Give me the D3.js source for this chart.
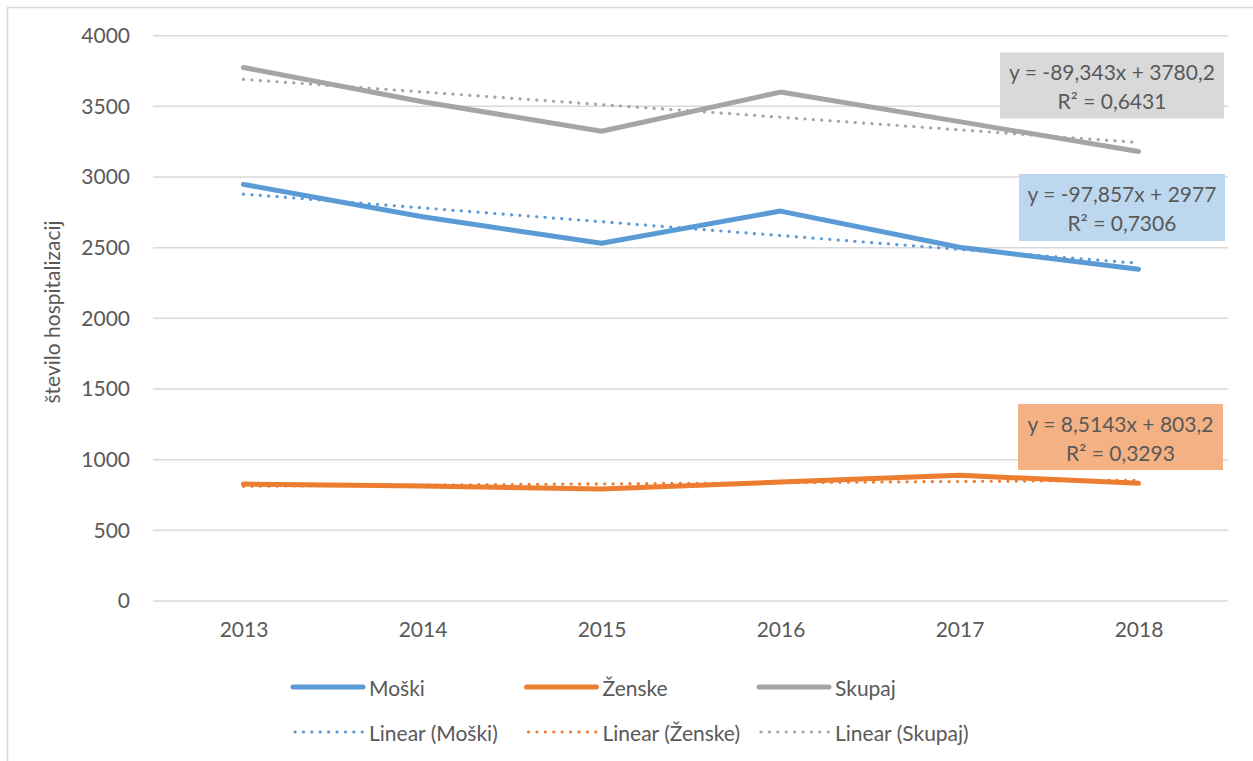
<!DOCTYPE html>
<html>
<head>
<meta charset="utf-8">
<script src="https://cdn.jsdelivr.net/npm/d3@7"></script>
<style>
  html, body { margin: 0; padding: 0; background: #fff; }
  svg { display: block; }
  text { font-family: Lato, "Open Sans", sans-serif; fill: #595959; }
</style>
</head>
<body>
<svg id="chart" width="1253" height="761"></svg>
<script>
// Hospitalizations per year, by sex
const years = ["2013", "2014", "2015", "2016", "2017", "2018"];
const moski = [2948, 2719, 2531, 2759, 2503, 2347];
const zenske = [827, 814, 793, 842, 889, 833];
const skupaj = [3775, 3533, 3324, 3601, 3392, 3180];

// Linear trend coefficients (y = slope * x + intercept, x = 1..6)
const trendSlope = [-97.857, 8.5143, -89.343];
const trendIntercept = [2977, 803.2, 3780.2];
const trendR2 = ["0,7306", "0,3293", "0,6431"];
const trendLabels = ["y = -97,857x + 2977", "y = 8,5143x + 803,2", "y = -89,343x + 3780,2"];

const seriesNames = ["Moški", "Ženske", "Skupaj"];
const seriesValues = [moski, zenske, skupaj];
const seriesColors = ["#5b9bd5", "#ed7d31", "#a5a5a5"];
const boxColors = ["#bdd7ee", "#f4b183", "#d9d9d9"];

const yTicks = [0, 500, 1000, 1500, 2000, 2500, 3000, 3500, 4000];

const FONT = "21px";
const svg = d3.select("#chart");

// outer chart frame
svg.append("rect")
  .attr("x", 7.5).attr("y", 7.5)
  .attr("width", 1400).attr("height", 900)
  .attr("fill", "none").attr("stroke", "#d9d9d9").attr("stroke-width", 1.5);

const x = d3.scalePoint().domain(years).range([154, 1228]).padding(0.5);
const y = d3.scaleLinear().domain([0, 4000]).range([601, 35.7]);

// gridlines
svg.append("g")
  .selectAll("line")
  .data(yTicks)
  .join("line")
  .attr("x1", 153).attr("x2", 1228)
  .attr("y1", d => y(d)).attr("y2", d => y(d))
  .attr("stroke", "#d9d9d9").attr("stroke-width", 1.5);

// y axis labels
const yAxis = svg.append("g")
  .attr("transform", "translate(154,0)")
  .call(d3.axisLeft(y).tickValues(yTicks).tickSize(0).tickPadding(24).tickFormat(d3.format("d")));
yAxis.select(".domain").remove();
yAxis.selectAll("text")
  .style("font-size", FONT).style("font-family", "Lato, sans-serif").attr("fill", "#595959");

// x axis labels
const xAxis = svg.append("g")
  .attr("transform", "translate(0,601)")
  .call(d3.axisBottom(x).tickSize(0).tickPadding(21));
xAxis.select(".domain").remove();
xAxis.selectAll("text")
  .style("font-size", FONT).style("font-family", "Lato, sans-serif").attr("fill", "#595959");

// y axis title
svg.append("text")
  .attr("transform", "translate(51,312) rotate(-90)")
  .attr("text-anchor", "middle")
  .attr("dominant-baseline", "central")
  .style("font-size", FONT)
  .text("število hospitalizacij");

// series lines
const line = d3.line()
  .x((d, i) => x(years[i]))
  .y(d => y(d));

svg.append("g")
  .selectAll("path")
  .data(seriesValues)
  .join("path")
  .attr("d", d => line(d))
  .attr("fill", "none")
  .attr("stroke", (d, i) => seriesColors[i])
  .attr("stroke-width", 5)
  .attr("stroke-linejoin", "round")
  .attr("stroke-linecap", "round");

// linear trend lines
const trendDash = "0.1,8.3";
svg.append("g")
  .selectAll("line")
  .data(seriesNames)
  .join("line")
  .attr("x1", x(years[0]))
  .attr("x2", x(years[years.length - 1]))
  .attr("y1", (d, i) => y(trendSlope[i] * 1 + trendIntercept[i]))
  .attr("y2", (d, i) => y(trendSlope[i] * years.length + trendIntercept[i]))
  .attr("stroke", (d, i) => seriesColors[i])
  .attr("stroke-width", 3.2)
  .attr("stroke-linecap", "round")
  .attr("stroke-dasharray", trendDash);

// trend equation boxes
const boxes = [
  { x: 1019, y: 174, w: 206, h: 67 },
  { x: 1018, y: 404, w: 205, h: 66 },
  { x: 1000, y: 52.5, w: 224, h: 66 }
];
boxes.forEach((b, i) => {
  const g = svg.append("g");
  g.append("rect")
    .attr("x", b.x).attr("y", b.y).attr("width", b.w).attr("height", b.h)
    .attr("fill", boxColors[i]);
  const cx = b.x + b.w / 2, cy = b.y + b.h / 2;
  g.append("text")
    .attr("x", cx).attr("y", cy - 14)
    .attr("text-anchor", "middle").attr("dominant-baseline", "central")
    .style("font-size", FONT)
    .text(trendLabels[i]);
  g.append("text")
    .attr("x", cx).attr("y", cy + 15)
    .attr("text-anchor", "middle").attr("dominant-baseline", "central")
    .style("font-size", FONT)
    .text("R² = " + trendR2[i]);
});

// legend
const legendX = [293, 526.5, 759];
const legend = svg.append("g");
seriesNames.forEach((name, i) => {
  legend.append("line")
    .attr("x1", legendX[i]).attr("x2", legendX[i] + 70)
    .attr("y1", 687).attr("y2", 687)
    .attr("stroke", seriesColors[i]).attr("stroke-width", 5)
    .attr("stroke-linecap", "round");
  legend.append("text")
    .attr("x", legendX[i] + 76).attr("y", 687)
    .attr("dominant-baseline", "central")
    .style("font-size", FONT)
    .text(name);
  legend.append("line")
    .attr("x1", legendX[i] + 2).attr("x2", legendX[i] + 70)
    .attr("y1", 732).attr("y2", 732)
    .attr("stroke", seriesColors[i]).attr("stroke-width", 3.2)
    .attr("stroke-linecap", "round")
    .attr("stroke-dasharray", trendDash);
  legend.append("text")
    .attr("x", legendX[i] + 76).attr("y", 732)
    .attr("dominant-baseline", "central")
    .style("font-size", FONT)
    .text("Linear (" + name + ")");
});
</script>
</body>
</html>
